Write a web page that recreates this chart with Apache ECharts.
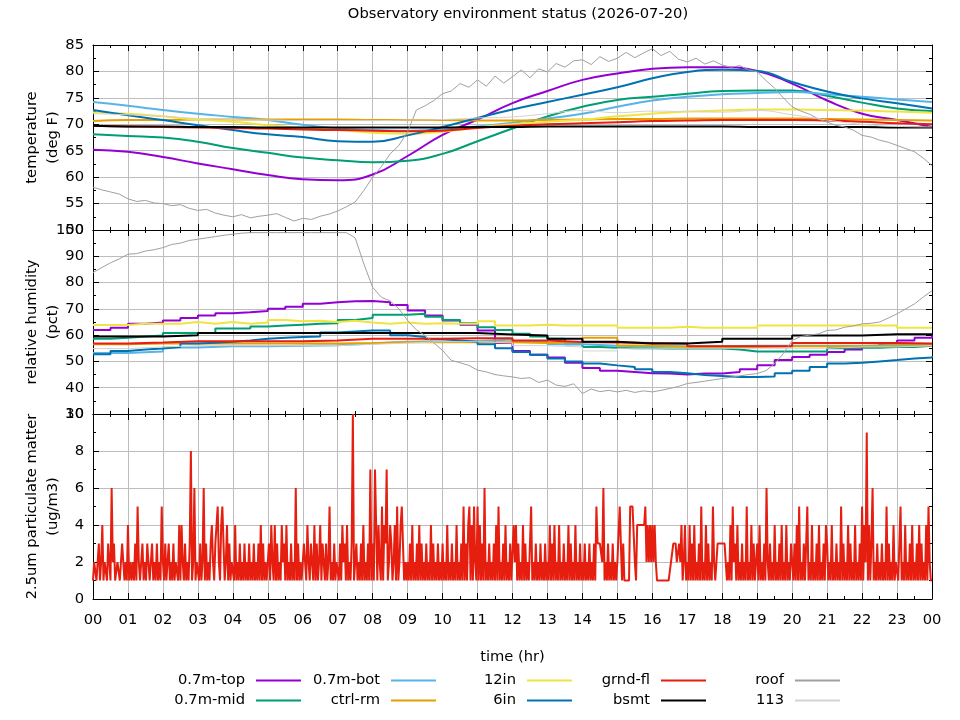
<!DOCTYPE html>
<html>
<head>
<meta charset="utf-8">
<script src="https://cdn.jsdelivr.net/npm/echarts@6/dist/echarts.min.js"></script>
<style>
  html, body { margin: 0; padding: 0; background: #fff; }
  #main { width: 960px; height: 720px; }
</style>
</head>
<body>
<div id="main"></div>
<script>
const FONT = 'DejaVu Sans';
const FSIZE = 14.7;

// temperature (deg F), one value per hour 00..24
const tTop  = [65.2, 64.8, 63.8, 62.6, 61.5, 60.4, 59.6, 59.4, 60.5, 64.0, 68.0, 70.9, 74.0, 76.3, 78.4, 79.6, 80.5, 80.8, 80.8, 80.1, 77.7, 74.5, 72.0, 70.8, 69.5];
const tMid  = [68.1, 67.8, 67.5, 66.7, 65.5, 64.6, 63.7, 63.2, 62.8, 63.1, 64.4, 66.8, 69.2, 71.5, 73.3, 74.6, 75.2, 75.8, 76.3, 76.4, 76.4, 75.4, 74.1, 73.0, 72.5];
const tBot  = [74.2, 73.5, 72.7, 72.0, 71.4, 70.8, 69.9, 69.2, 68.9, 68.8, 69.0, 69.6, 70.3, 71.1, 72.0, 73.3, 74.5, 75.2, 75.7, 75.9, 76.1, 75.7, 75.2, 74.7, 74.2];
const tCtrl = [70.6, 70.8, 70.8, 70.9, 70.9, 70.9, 70.9, 70.9, 70.8, 70.8, 70.8, 70.7, 70.7, 70.8, 70.9, 71.0, 71.0, 71.1, 71.1, 71.1, 71.1, 71.0, 70.9, 70.8, 70.7];
const t12in = [72.3, 72.0, 71.5, 70.9, 70.5, 69.8, 69.3, 68.9, 68.4, 68.2, 68.6, 69.4, 70.0, 70.5, 70.9, 71.5, 72.0, 72.4, 72.6, 72.8, 72.8, 72.7, 72.6, 72.4, 72.2];
const t6in  = [72.7, 71.7, 70.8, 69.8, 68.9, 68.1, 67.6, 66.8, 66.7, 67.9, 69.5, 71.2, 72.8, 74.2, 75.6, 77.0, 78.7, 79.9, 80.3, 80.1, 78.0, 76.2, 74.9, 74.0, 73.0];
const tGrnd = [69.7, 69.6, 69.5, 69.4, 69.3, 69.2, 69.0, 68.9, 68.8, 68.7, 68.8, 69.3, 69.7, 70.0, 70.2, 70.4, 70.6, 70.7, 70.8, 70.8, 70.8, 70.7, 70.5, 70.2, 70.0];
const tBsmt = [69.7, 69.6, 69.6, 69.5, 69.5, 69.4, 69.4, 69.4, 69.4, 69.4, 69.4, 69.5, 69.5, 69.6, 69.6, 69.6, 69.6, 69.6, 69.6, 69.5, 69.5, 69.5, 69.5, 69.4, 69.4];
const t113  = [72.0, 71.8, 71.5, 71.1, 70.9, 70.8, 70.7, 70.7, 70.7, 70.8, 70.9, 71.2, 71.4, 72.0, 72.6, 72.2, 72.5, 72.4, 72.3, 72.6, 71.8, 70.8, 70.0, 69.6, 69.5];
// roof temperature, every 15 minutes
const tRoof = [
  58.1, 57.6, 57.2, 56.8, 55.9, 55.4, 55.6, 55.1, 55.0, 54.6, 54.8, 54.1,
  53.7, 53.9, 53.2, 52.8, 52.5, 52.9, 52.3, 52.6, 52.8, 53.1, 52.4, 51.7,
  52.2, 52.0, 52.6, 53.0, 53.6, 54.4, 55.3, 57.5, 60.0, 62.0, 64.4, 66.0,
  68.6, 72.7, 73.5, 74.5, 75.8, 76.3, 77.7, 77.0, 78.4, 77.2, 79.1, 77.8,
  79.0, 80.3, 78.8, 80.5, 79.9, 81.5, 80.8, 82.0, 82.2, 81.3, 82.8, 81.9,
  82.5, 83.6, 82.6, 83.5, 84.3, 83.0, 83.8, 82.3, 81.8, 82.5, 81.4, 82.0,
  81.2, 80.8, 81.1, 80.3, 79.9, 78.3, 76.8, 75.0, 73.3, 72.5, 71.9, 71.0,
  70.4, 69.8, 69.5, 68.9, 67.9, 67.6, 67.0, 66.6, 66.0, 65.4, 64.8, 63.6, 62.2
];

// relative humidity (pct); top / mid / 12in / 6in every 30 min, others every hour
const hTop = [62.0, 62.8, 64.3, 64.8, 65.6, 66.5, 67.5, 68.3, 68.7, 69.2, 70.0, 70.8, 71.9, 72.5, 72.9, 73.0, 72.5, 71.5, 69.4, 67.5, 65.6, 64.0, 61.8, 57.0, 54.0, 52.5, 51.5, 49.5, 47.5, 46.5, 46.0, 45.5, 45.4, 45.0, 45.4, 45.4, 46.0, 47.0, 48.5, 50.5, 51.7, 52.5, 53.6, 54.5, 55.5, 56.5, 58.0, 59.0, 60.3];
const hMid = [58.6, 59.0, 59.5, 59.9, 60.8, 60.8, 60.8, 62.5, 62.5, 63.3, 63.7, 64.0, 64.3, 64.5, 65.8, 66.5, 67.8, 67.8, 68.1, 67.0, 65.8, 64.5, 63.0, 62.0, 60.5, 59.5, 58.6, 56.5, 55.5, 55.2, 55.0, 55.0, 54.9, 54.9, 54.9, 54.9, 54.5, 53.8, 53.8, 53.8, 53.8, 53.8, 55.0, 55.2, 55.2, 55.5, 55.5, 56.0, 56.0];
const h12in = [63.9, 63.9, 64.3, 64.3, 64.3, 65.0, 64.3, 65.0, 64.3, 64.8, 65.8, 65.3, 65.5, 65.0, 65.5, 64.8, 64.3, 64.8, 64.3, 64.5, 64.3, 64.3, 65.3, 63.7, 63.7, 64.0, 63.7, 63.7, 63.7, 63.7, 62.8, 62.8, 62.8, 63.2, 62.8, 62.8, 62.8, 62.8, 63.7, 63.7, 63.7, 63.7, 63.7, 63.7, 63.7, 63.7, 62.8, 62.8, 62.8];
const h6in = [52.7, 54.0, 54.5, 54.9, 55.5, 56.8, 57.1, 57.5, 58.0, 58.6, 59.0, 59.3, 59.5, 61.0, 61.4, 61.8, 61.8, 60.0, 59.3, 58.5, 58.0, 57.5, 56.5, 55.0, 53.6, 52.5, 51.1, 50.0, 49.2, 48.5, 47.9, 47.0, 46.0, 45.5, 44.8, 44.5, 44.1, 44.1, 44.3, 45.5, 46.5, 47.9, 49.2, 49.5, 50.0, 50.5, 51.1, 51.5, 52.0];
const hBot  = [53.2, 53.8, 55.3, 55.8, 55.8, 56.0, 56.2, 56.8, 57.5, 57.7, 57.8, 58.3, 57.5, 56.5, 56.0, 55.8, 55.8, 55.8, 56.0, 56.0, 56.0, 56.0, 56.3, 56.5, 56.5];
const hCtrl = [56.5, 56.8, 56.8, 56.8, 56.8, 56.8, 56.8, 57.0, 57.3, 57.3, 57.3, 57.3, 57.0, 57.5, 59.0, 56.1, 55.5, 55.5, 55.5, 55.8, 55.8, 55.8, 56.0, 56.1, 56.1];
const hGrnd = [56.8, 57.2, 57.7, 57.7, 57.7, 57.7, 58.0, 58.6, 58.6, 58.6, 58.8, 58.8, 58.0, 57.4, 57.2, 57.0, 56.8, 55.8, 55.8, 55.8, 57.0, 57.0, 57.0, 56.8, 56.8];
const hBsmt = [59.5, 59.5, 60.0, 60.8, 60.8, 60.8, 60.8, 60.8, 60.8, 60.8, 60.8, 60.2, 59.9, 58.6, 57.5, 56.8, 56.8, 57.5, 58.6, 58.6, 59.9, 59.9, 60.3, 60.3, 59.9];
const h113  = [54.9, 55.5, 56.0, 56.0, 56.0, 56.0, 56.0, 56.5, 57.0, 57.5, 57.5, 57.0, 56.0, 55.5, 54.0, 55.0, 55.0, 55.0, 55.0, 55.0, 55.0, 55.5, 55.5, 56.0, 56.0];
// roof humidity, every 15 minutes
const hRoof = [
  83.8, 85.7, 87.5, 89.0, 90.8, 91.0, 92.0, 92.5, 93.3, 94.5, 95.0, 96.0,
  96.5, 97.0, 97.5, 98.0, 98.4, 98.8, 99.0, 99.0, 99.0, 99.0, 99.0, 99.0,
  99.0, 99.0, 99.0, 99.0, 99.0, 99.0, 97.0, 87.0, 78.2, 74.4, 73.0, 70.0,
  65.6, 62.0, 59.9, 57.0, 54.2, 50.4, 49.5, 48.5, 46.7, 46.0, 45.0, 44.5,
  44.1, 43.5, 43.8, 42.0, 42.9, 41.0, 40.5, 41.5, 37.8, 39.5, 38.5, 39.0,
  38.4, 39.0, 38.2, 38.8, 38.4, 39.0, 39.7, 40.5, 41.6, 42.0, 42.5, 43.0,
  43.5, 44.0, 44.5, 45.0, 45.4, 46.5, 49.2, 53.0, 58.0, 59.5, 60.0, 60.5,
  61.8, 62.0, 63.0, 63.5, 64.3, 64.5, 65.0, 66.5, 68.1, 70.0, 71.9, 74.5, 76.9
];

// 2.5um particulate matter (ug/m3), about one digit per 2 minutes, one string per hour (A = 10)
const pmHours = [
  '122123124122132162311221132121', '41212131521231213212312131215',
  '213123121312214142131213812612', '213126131213421345214531241312',
  '214121312131213121312131413121', '231421413121423141213121613121',
  '132142132141312413213125121312', '2131423141213A1231213141213171',
  '317414215143712431241512453121', '213141213141312131214131213121',
  '312141213121412131513145141521', '514131612131213141512131412131',
  '142413121413121351213121312131', '214131412141213121413121412131',
  '213121312131533332612131213121', '225313111115555214444444524242',
  '424211111111111122333223241241', '214131412131512141312152123333',
  '333312141523141213121512141312', '314121316213121412131412141213',
  '213141512131351214121314121314', '312141213121513121413121412131',
  '514291413612131213121513121412', '213512141213141213141312141521',
  '1'
];

const legendRow1 = ['0.7m-top', '0.7m-bot', '12in', 'grnd-fl', 'roof'];
const legendRow2 = ['0.7m-mid', 'ctrl-rm', '6in', 'bsmt', '113'];
const legendRight = [302, 437, 573, 707, 841];

const colors = {
  '0.7m-top': '#9400d3', '0.7m-mid': '#009e73', '0.7m-bot': '#56b4e9',
  'ctrl-rm': '#e69f00', '12in': '#f0e442', '6in': '#0072b2',
  'grnd-fl': '#e51e10', 'bsmt': '#000000', 'roof': '#a0a0a0', '113': '#d3d3d3'
};

function toXY(values, step) {
  return values.map((v, i) => [i * step, v]);
}

// each hour string is spread evenly over its hour
let pmData = [];
pmHours.forEach((s, h) => {
  s.split('').forEach((c, j) => {
    pmData.push([h + j / s.length, c === 'A' ? 10 : +c]);
  });
});

function line(name, data, gi, opts) {
  opts = opts || {};
  const thin = name === 'roof' || name === '113';
  const color = opts.color || colors[name];
  return {
    name: name,
    type: 'line',
    xAxisIndex: gi,
    yAxisIndex: gi,
    data: data,
    symbol: 'none',
    smooth: opts.smooth || false,
    step: opts.step || false,
    color: color,
    lineStyle: { width: thin ? 1 : 2, color: color },
    animation: false,
    silent: true,
  };
}

const grids = [
  { left: 93, right: 28, top: 45, height: 185 },
  { left: 93, right: 28, top: 230, height: 184 },
  { left: 93, right: 28, top: 414, height: 185 },
];

const axisText = { fontFamily: FONT, fontSize: FSIZE, color: '#000' };
const black = { color: '#000', width: 1 };

// major x axis: labels + grid lines on the bottom one, mirrored ticks on top
function xAxis(gi, top) {
  return {
    type: 'value',
    gridIndex: gi,
    position: top ? 'top' : 'bottom',
    min: 0,
    max: 24,
    interval: 1,
    axisLine: { show: true, onZero: false, lineStyle: black },
    axisTick: { show: true, inside: true, length: 6, lineStyle: black },
    splitLine: { show: !top, lineStyle: { color: '#bdbdbd', width: 1 } },
    axisLabel: {
      show: !top && gi === 2,
      margin: 14,
      ...axisText,
      formatter: (v) => String(v % 24).padStart(2, '0'),
    },
    name: !top && gi === 2 ? 'time (hr)' : '',
    nameLocation: 'middle',
    nameGap: 51,
    nameMoveOverlap: false,
    nameTextStyle: axisText,
  };
}

// half-hour minor ticks
function xMinor(gi, top) {
  return {
    type: 'value',
    gridIndex: gi,
    position: top ? 'top' : 'bottom',
    min: 0,
    max: 24,
    interval: 0.5,
    axisLine: { show: false, onZero: false },
    axisTick: { show: true, inside: true, length: 3, lineStyle: black },
    splitLine: { show: false },
    axisLabel: { show: false },
  };
}

function yAxis(gi, right, min, max, interval, name) {
  return {
    type: 'value',
    gridIndex: gi,
    position: right ? 'right' : 'left',
    min: min,
    max: max,
    interval: interval,
    axisLine: { show: true, onZero: false, lineStyle: black },
    axisTick: { show: true, inside: true, length: 6, lineStyle: black },
    splitLine: { show: !right, lineStyle: { color: '#bdbdbd', width: 1 } },
    axisLabel: { show: !right, margin: 9, ...axisText },
    name: right ? '' : name,
    nameLocation: 'middle',
    nameRotate: 90,
    nameGap: 29,
    nameMoveOverlap: false,
    nameTextStyle: { ...axisText, lineHeight: 21 },
  };
}

function yMinor(gi, right, min, max, interval) {
  return {
    type: 'value',
    gridIndex: gi,
    position: right ? 'right' : 'left',
    min: min,
    max: max,
    interval: interval,
    axisLine: { show: false, onZero: false },
    axisTick: { show: true, inside: true, length: 3, lineStyle: black },
    splitLine: { show: false },
    axisLabel: { show: false },
  };
}

const legends = [];
[legendRow1, legendRow2].forEach((row, r) => {
  row.forEach((name, c) => {
    legends.push({
      data: [name],
      right: 960 - legendRight[c],
      top: r === 0 ? 673 : 693,
      orient: 'horizontal',
      align: 'right',
      padding: 0,
      itemWidth: 45,
      itemHeight: 14,
      selectedMode: false,
      itemStyle: { opacity: 0 },
      textStyle: { ...axisText, padding: [0, 6, 0, 0] },
    });
  });
});

const myChart = echarts.init(document.getElementById('main'), null, { renderer: 'canvas' });

const option = {
  backgroundColor: '#fff',
  animation: false,
  title: {
    text: 'Observatory environment status (2026-07-20)',
    left: 513,
    textAlign: 'center',
    top: 2,
    textStyle: { fontFamily: FONT, fontSize: FSIZE, fontWeight: 'normal', color: '#000' },
  },
  legend: legends,
  grid: grids,
  xAxis: [
    xAxis(0), xAxis(1), xAxis(2),
    xAxis(0, true), xAxis(1, true), xAxis(2, true),
    xMinor(0), xMinor(1), xMinor(2),
    xMinor(0, true), xMinor(1, true), xMinor(2, true),
  ],
  yAxis: [
    yAxis(0, false, 50, 85, 5, 'temperature\n(deg F)'),
    yAxis(1, false, 30, 100, 10, 'relative humidity\n(pct)'),
    yAxis(2, false, 0, 10, 2, '2.5um particulate matter\n(ug/m3)'),
    yAxis(0, true, 50, 85, 5, ''),
    yAxis(1, true, 30, 100, 10, ''),
    yAxis(2, true, 0, 10, 2, ''),
    yMinor(0, false, 50, 85, 2.5), yMinor(1, false, 30, 100, 5), yMinor(2, false, 0, 10, 1),
    yMinor(0, true, 50, 85, 2.5), yMinor(1, true, 30, 100, 5), yMinor(2, true, 0, 10, 1),
  ],
  series: [
    line('0.7m-top', toXY(tTop, 1), 0, { smooth: true }),
    line('0.7m-mid', toXY(tMid, 1), 0, { smooth: true }),
    line('0.7m-bot', toXY(tBot, 1), 0, { smooth: true }),
    line('ctrl-rm', toXY(tCtrl, 1), 0, { smooth: true }),
    line('12in', toXY(t12in, 1), 0, { smooth: true }),
    line('6in', toXY(t6in, 1), 0, { smooth: true }),
    line('grnd-fl', toXY(tGrnd, 1), 0, { smooth: true }),
    line('bsmt', toXY(tBsmt, 1), 0, { smooth: true }),
    line('roof', toXY(tRoof, 0.25), 0),
    line('113', toXY(t113, 1), 0, { smooth: true }),

    line('0.7m-top', toXY(hTop, 0.5), 1, { step: 'end' }),
    line('0.7m-mid', toXY(hMid, 0.5), 1, { step: 'end' }),
    line('0.7m-bot', toXY(hBot, 1), 1, { step: 'end' }),
    line('ctrl-rm', toXY(hCtrl, 1), 1, { step: 'end' }),
    line('12in', toXY(h12in, 0.5), 1, { step: 'end' }),
    line('6in', toXY(h6in, 0.5), 1, { step: 'end' }),
    line('grnd-fl', toXY(hGrnd, 1), 1, { step: 'end' }),
    line('bsmt', toXY(hBsmt, 1), 1, { step: 'end' }),
    line('roof', toXY(hRoof, 0.25), 1),
    line('113', toXY(h113, 1), 1, { step: 'end' }),

    line('pm2.5', pmData, 2, { color: '#e51e10' }),
  ],
};

myChart.setOption(option);
</script>
</body>
</html>
